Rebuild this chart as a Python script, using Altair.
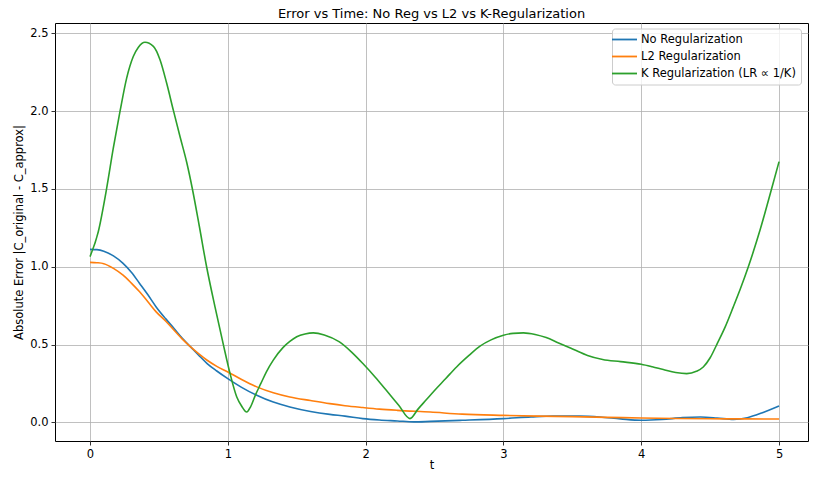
import altair as alt
import pandas as pd

series_names = ["No Regularization", "L2 Regularization", "K Regularization (LR \u221d 1/K)"]
series_colors = ["#1f77b4", "#ff7f0e", "#2ca02c"]

blue_t = [0.00, 0.05, 0.10, 0.17, 0.24, 0.30, 0.36, 0.42, 0.48, 0.55, 0.61, 0.67, 0.73, 0.79, 0.85, 0.92,
          1.00, 1.10, 1.21, 1.33, 1.45, 1.60, 1.74, 1.85, 1.98, 2.10, 2.23, 2.35, 2.47, 2.70, 3.00, 3.20,
          3.36, 3.55, 3.70, 3.85, 4.00, 4.15, 4.30, 4.43, 4.55, 4.67, 4.77, 4.88, 5.00]
blue_v = [1.112, 1.110, 1.100, 1.070, 1.022, 0.965, 0.893, 0.820, 0.742, 0.665, 0.603, 0.540, 0.485, 0.430,
          0.378, 0.330, 0.281, 0.225, 0.174, 0.130, 0.099, 0.070, 0.051, 0.040, 0.024, 0.015, 0.009, 0.003,
          0.006, 0.013, 0.024, 0.035, 0.041, 0.040, 0.034, 0.022, 0.013, 0.018, 0.030, 0.034, 0.028, 0.019,
          0.030, 0.062, 0.105]

orange_t = [0.00, 0.05, 0.10, 0.17, 0.24, 0.30, 0.36, 0.42, 0.48, 0.55, 0.61, 0.67, 0.73, 0.79, 0.85, 0.92,
            1.00, 1.10, 1.21, 1.33, 1.45, 1.60, 1.74, 1.85, 1.98, 2.10, 2.23, 2.47, 2.70, 3.00, 3.25, 3.50,
            3.75, 4.00, 4.25, 4.50, 4.75, 5.00]
orange_v = [1.028, 1.026, 1.020, 0.990, 0.946, 0.895, 0.839, 0.775, 0.710, 0.650, 0.592, 0.535, 0.485, 0.440,
            0.399, 0.360, 0.324, 0.275, 0.228, 0.190, 0.163, 0.140, 0.120, 0.107, 0.095, 0.085, 0.077, 0.066,
            0.053, 0.045, 0.040, 0.037, 0.032, 0.028, 0.025, 0.023, 0.022, 0.021]

green_t = [0.00, 0.06, 0.121, 0.169, 0.218, 0.266, 0.314, 0.35, 0.399, 0.46, 0.508, 0.556, 0.605, 0.653,
           0.702, 0.743, 0.793, 0.845, 0.907, 0.968, 1.016, 1.065, 1.10, 1.137, 1.165, 1.20, 1.24, 1.28,
           1.33, 1.40, 1.45, 1.50, 1.56, 1.62, 1.70, 1.81, 1.90, 1.98, 2.07, 2.15, 2.24, 2.322, 2.38, 2.44,
           2.50, 2.58, 2.66, 2.75, 2.83, 2.91, 3.00, 3.07, 3.145, 3.23, 3.31, 3.40, 3.51, 3.61, 3.72, 3.85,
           4.00, 4.08, 4.16, 4.25, 4.33, 4.40, 4.45, 4.50, 4.548, 4.61, 4.668, 4.72, 4.777, 4.862, 4.947, 5.00]
green_v = [1.065, 1.225, 1.505, 1.762, 2.000, 2.213, 2.352, 2.410, 2.443, 2.417, 2.331, 2.181, 2.005, 1.837,
           1.670, 1.500, 1.262, 1.005, 0.742, 0.498, 0.314, 0.163, 0.105, 0.066, 0.100, 0.175, 0.250, 0.325,
           0.400, 0.480, 0.520, 0.550, 0.568, 0.575, 0.562, 0.517, 0.450, 0.378, 0.290, 0.206, 0.110, 0.024,
           0.085, 0.145, 0.205, 0.280, 0.356, 0.430, 0.490, 0.530, 0.560, 0.572, 0.575, 0.565, 0.545, 0.510,
           0.468, 0.430, 0.404, 0.390, 0.373, 0.357, 0.339, 0.320, 0.313, 0.328, 0.356, 0.415, 0.500, 0.615,
           0.742, 0.860, 1.000, 1.236, 1.505, 1.676]

x_ticks = [0, 1, 2, 3, 4, 5]
y_ticks = [0.0, 0.5, 1.0, 1.5, 2.0, 2.5]

rows = []
for name, ts, vs in zip(series_names, [blue_t, orange_t, green_t], [blue_v, orange_v, green_v]):
    for t, v in zip(ts, vs):
        rows.append({"series": name, "t": t, "err": v})
df = pd.DataFrame(rows)

FONT = "DejaVu Sans"

chart = alt.Chart(df).mark_line(strokeWidth=1.6, interpolate="monotone").encode(
    x=alt.X("t:Q", scale=alt.Scale(domain=[-0.254, 5.21], nice=False, zero=False),
            axis=alt.Axis(values=x_ticks, format="d", title="t",
                          titleY=27, titleBaseline="alphabetic")),
    y=alt.Y("err:Q", scale=alt.Scale(domain=[-0.12, 2.567], nice=False, zero=False),
            axis=alt.Axis(values=y_ticks, format=".1f", title="Absolute Error |C_original - C_approx|")),
    color=alt.Color("series:N", sort=series_names,
                    scale=alt.Scale(domain=series_names, range=series_colors),
                    legend=alt.Legend(title=None, orient="none", legendX=557, legendY=5.5,
                                      symbolType="M-2.2,0H2.8", symbolSize=100, symbolStrokeWidth=1.8,
                                      labelFont=FONT, labelFontSize=11.5, labelColor="#000",
                                      labelOffset=12, rowPadding=5, padding=5,
                                      fillColor="rgba(255,255,255,0.8)", strokeColor="#cccccc",
                                      cornerRadius=3)),
).properties(
    width=753, height=418,
    title=alt.TitleParams("Error vs Time: No Reg vs L2 vs K-Regularization", font=FONT,
                          fontSize=13, fontWeight="normal", color="#000", anchor="middle",
                          offset=2),
    autosize=alt.AutoSizeParams(type="none"),
    padding={"left": 47, "top": 15, "right": 1, "bottom": 29},
).configure_view(
    stroke="black", strokeWidth=1
).configure_axis(
    domain=False, grid=True, gridColor="#b0b0b0", gridWidth=0.8,
    tickColor="black", tickSize=4, tickWidth=0.8,
    labelFont=FONT, labelFontSize=11.5, labelColor="#000", labelPadding=3,
    titleFont=FONT, titleFontSize=11.5, titleFontWeight="normal", titleColor="#000",
).configure_axisY(titlePadding=5)

chart.save("out.html", embed_options={"renderer": "svg", "actions": False})
